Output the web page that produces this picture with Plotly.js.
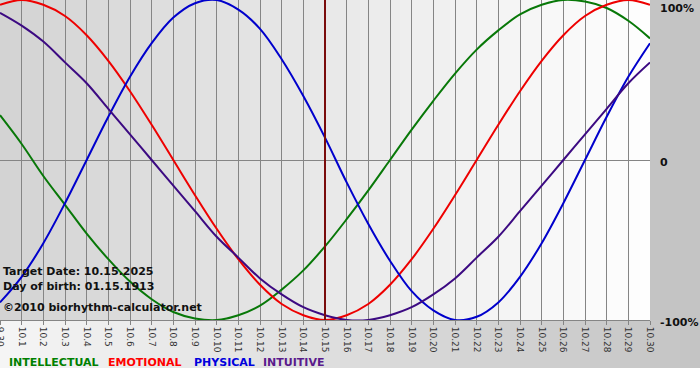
<!DOCTYPE html>
<html><head><meta charset="utf-8">
<script src="https://cdn.plot.ly/plotly-3.0.1.min.js"></script>
<style>html,body{margin:0;padding:0;background:#fff}#chart{width:700px;height:380px}</style>
</head><body><div id="chart"></div>
<script>
// ---- data ----
const days = ['9.30','10.1','10.2','10.3','10.4','10.5','10.6','10.7','10.8','10.9','10.10',
  '10.11','10.12','10.13','10.14','10.15','10.16','10.17','10.18','10.19','10.20',
  '10.21','10.22','10.23','10.24','10.25','10.26','10.27','10.28','10.29','10.30'];
const intellectual = [0.28,0.10,-0.10,-0.28,-0.46,-0.62,-0.76,-0.87,-0.95,-0.99,-1.00,
  -0.97,-0.91,-0.81,-0.69,-0.54,-0.37,-0.19,0.00,0.19,0.37,
  0.54,0.69,0.81,0.91,0.97,1.00,0.99,0.95,0.87,0.76];
const emotional = [0.97,1.00,0.97,0.90,0.78,0.62,0.43,0.22,0.00,-0.22,-0.43,
  -0.62,-0.78,-0.90,-0.97,-1.00,-0.97,-0.90,-0.78,-0.62,-0.43,
  -0.22,0.00,0.22,0.43,0.62,0.78,0.90,0.97,1.00,0.97];
const physical = [-0.89,-0.73,-0.52,-0.27,0.00,0.27,0.52,0.73,0.89,0.98,1.00,
  0.94,0.82,0.63,0.40,0.14,-0.14,-0.40,-0.63,-0.82,-0.94,
  -1.00,-0.98,-0.89,-0.73,-0.52,-0.27,0.00,0.27,0.52,0.73];
const intuitive = [0.92,0.84,0.74,0.61,0.48,0.32,0.16,0.00,-0.16,-0.32,-0.48,
  -0.61,-0.74,-0.84,-0.92,-0.97,-1.00,-1.00,-0.97,-0.92,-0.84,
  -0.74,-0.61,-0.48,-0.32,-0.16,0.00,0.16,0.32,0.48,0.61];
const seriesNames = ['INTELLECTUAL','EMOTIONAL','PHYSICAL','INTUITIVE'];
const targetDay = '10.15';
const infoLines = ['Target Date: 10.15.2025','Day of birth: 01.15.1913','\u00a92010 biorhythm-calculator.net'];
const yTickVals = [1, 0, -1];
const yTickText = ['100%', '0', '-100%'];

// ---- styles ----
const lineColors = ['#087808', '#ee0000', '#0000cc', '#3c0a82'];
const legendColors = ['#008000', '#ff0000', '#0000dd', '#5a1a8c'];
const legendX = [8, 107, 193, 262];
const seriesData = [intellectual, emotional, physical, intuitive];

const traces = seriesData.map((vals, i) => ({
  type: 'scatter', mode: 'lines', x: days, y: vals, name: seriesNames[i],
  line: {color: lineColors[i], width: 2, shape: 'spline', smoothing: 1},
  hoverinfo: 'skip'
}));

const W = 650, H = 320;
function gray(v) { v = Math.round(v); return 'rgb(' + v + ',' + v + ',' + v + ')'; }
const shapes = [];
// plot area gradient (left gray -> right white)
const nP = 65;
for (let i = 0; i < nP; i++) {
  const c = 211 + (254 - 211) * (i + 0.5) / nP;
  shapes.push({type: 'rect', xref: 'paper', yref: 'paper', x0: i / nP, x1: (i + 1.02) / nP,
    y0: 0, y1: 1, fillcolor: gray(c), line: {width: 0}, layer: 'below'});
}
// right margin
shapes.push({type: 'rect', xref: 'paper', yref: 'paper', x0: 1, x1: 1 + 51 / W,
  y0: 0, y1: 1 + 2 / H, fillcolor: gray(196), line: {width: 0}, layer: 'below'});
// bottom band gradient (left light -> right gray)
const nB = 70;
for (let i = 0; i < nB; i++) {
  const c = 245 + (196 - 245) * (i + 0.5) / nB;
  shapes.push({type: 'rect', xref: 'paper', yref: 'paper', x0: (i * 10) / W, x1: ((i + 1) * 10 + 0.3) / W,
    y0: -48 / H, y1: 0, fillcolor: gray(c), line: {width: 0}, layer: 'below'});
}
// target date line (category index of the target day)
const targetIdx = days.indexOf(targetDay);
shapes.push({type: 'line', xref: 'x', yref: 'paper', x0: targetIdx, x1: targetIdx, y0: 0, y1: 1,
  line: {color: '#7a0c0c', width: 2}, layer: 'above'});

const annotations = [];
const infoY = [271, 286, 307];
infoLines.forEach((t, i) => annotations.push({
  xref: 'paper', yref: 'paper', x: 0, y: (H - infoY[i]) / H, xanchor: 'left', yanchor: 'middle',
  xshift: 1, text: t, showarrow: false, font: {family: 'DejaVu Sans', size: 11, color: '#111', weight: 'bold'}
}));
yTickVals.forEach((v, i) => annotations.push({
  xref: 'paper', yref: 'y', x: 1, y: v, xanchor: 'left', yanchor: i === 0 ? 'top' : 'middle',
  xshift: 8, yshift: i === 0 ? 0 : -2, text: yTickText[i], showarrow: false,
  font: {family: 'DejaVu Sans', size: 11, color: '#111', weight: 'bold'}
}));
seriesNames.forEach((n, i) => annotations.push({
  xref: 'paper', yref: 'paper', x: legendX[i] / W, y: (H - 362) / H, xanchor: 'left', yanchor: 'middle',
  xshift: -1, text: n, showarrow: false,
  font: {family: 'DejaVu Sans', size: 11, weight: 'bold', color: legendColors[i]}
}));

const layout = {
  width: 700, height: 380,
  margin: {l: 0, r: 50, t: 0, b: 60, pad: 0},
  paper_bgcolor: '#ffffff', plot_bgcolor: 'rgba(0,0,0,0)',
  showlegend: false,
  font: {family: 'DejaVu Sans', size: 9, color: '#333'},
  xaxis: {
    type: 'category', range: [0, days.length - 1], tickvals: days, ticktext: days,
    tickangle: 90, tickfont: {family: 'DejaVu Sans', size: 9, color: '#333'},
    showgrid: true, gridcolor: '#858585', gridwidth: 1,
    ticks: 'outside', ticklen: 4, tickcolor: '#858585',
    showline: true, linecolor: '#858585', linewidth: 1, mirror: true,
    zeroline: false, fixedrange: true
  },
  yaxis: {
    range: [-1, 1], showgrid: false, zeroline: true, zerolinecolor: '#858585', zerolinewidth: 1,
    showticklabels: false, ticks: '', showline: false, fixedrange: true
  },
  shapes: shapes,
  annotations: annotations
};

Plotly.newPlot('chart', traces, layout, {staticPlot: true, displayModeBar: false});
</script>
</body></html>
